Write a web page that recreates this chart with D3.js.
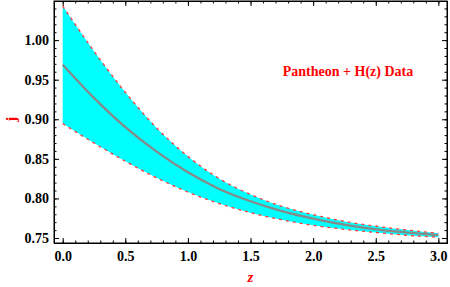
<!DOCTYPE html>
<html>
<head>
<meta charset="utf-8">
<script src="https://cdn.jsdelivr.net/npm/d3@7"></script>
<style>
    body { margin: 0; background: #fff; }
    svg text { font-family: "Liberation Serif", "Times New Roman", Times, "DejaVu Serif", serif !important; font-weight: bold; }
</style>
</head>
<body>
<svg id="chart" width="450" height="287"></svg>
<script>
// redshift samples and the band
let zValues = [0, 0.25, 0.5, 0.75, 1.0, 1.25, 1.5, 1.75, 2.0, 2.25, 2.5, 2.75, 3.0];
let jUpper  = [1.043, 0.986, 0.934, 0.889, 0.853, 0.825, 0.805, 0.790, 0.7795, 0.771, 0.765, 0.760, 0.756];
let jMiddle = [0.969, 0.927, 0.890, 0.859, 0.833, 0.812, 0.7965, 0.784, 0.7745, 0.767, 0.761, 0.757, 0.7535];
let jLower  = [0.8945, 0.870, 0.847, 0.826, 0.808, 0.7935, 0.782, 0.773, 0.766, 0.761, 0.757, 0.7535, 0.751];

let xTicks = [0, 0.5, 1.0, 1.5, 2.0, 2.5, 3.0];
let yTicks = [0.75, 0.80, 0.85, 0.90, 0.95, 1.00];

let width = 450;
let height = 287;
let padLeft = 54, padRight = 447, padTop = 1, padBottom = 243;

let data = zValues.map(function (z, i) {
    return {z: z, up: jUpper[i], mid: jMiddle[i], low: jLower[i]};
});

let xScale = d3.scaleLinear()
    .domain([-0.0695, 3.069])
    .range([padLeft, padRight]);

let yScale = d3.scaleLinear()
    .domain([0.7437, 1.0494])
    .range([padBottom, padTop]);

let svg = d3.select("#chart");

//band
let area = d3.area()
    .x(d => xScale(d.z))
    .y0(d => yScale(d.low))
    .y1(d => yScale(d.up))
    .curve(d3.curveMonotoneX);

svg.append("path")
    .datum(data)
    .attr("d", area)
    .attr("fill", "#00ffff");

//dashed edges
for (let key of ["up", "low"]) {
    let line = d3.line()
        .x(d => xScale(d.z))
        .y(d => yScale(d[key]))
        .curve(d3.curveMonotoneX);
    svg.append("path")
        .datum(data)
        .attr("d", line)
        .attr("fill", "none")
        .attr("stroke", "#ff3a3a")
        .attr("stroke-width", 1.3)
        .attr("stroke-dasharray", "3,4");
}

//center line
let midLine = d3.line()
    .x(d => xScale(d.z))
    .y(d => yScale(d.mid))
    .curve(d3.curveMonotoneX);

svg.append("path")
    .datum(data)
    .attr("d", midLine)
    .attr("fill", "none")
    .attr("stroke", "#888888")
    .attr("stroke-width", 2.2);

//frame with inward ticks on every side
let xMinor = d3.range(0, 3.05, 0.1).map(v => +v.toFixed(2));
let yMinor = d3.range(0.75, 1.045, 0.01).map(v => +v.toFixed(2));

let axisBottom = d3.axisBottom(xScale).tickValues(xTicks).tickSizeInner(-5).tickSizeOuter(0)
    .tickFormat(d3.format(".1f")).tickPadding(8);
let axisTop = d3.axisTop(xScale).tickValues(xTicks).tickSizeInner(-5).tickSizeOuter(0).tickFormat("");
let axisLeft = d3.axisLeft(yScale).tickValues(yTicks).tickSizeInner(-5).tickSizeOuter(0)
    .tickFormat(d3.format(".2f")).tickPadding(5);
let axisRight = d3.axisRight(yScale).tickValues(yTicks).tickSizeInner(-5).tickSizeOuter(0).tickFormat("");

let minorB = d3.axisBottom(xScale).tickValues(xMinor).tickSize(-2.5).tickFormat("");
let minorT = d3.axisTop(xScale).tickValues(xMinor).tickSize(-2.5).tickFormat("");
let minorL = d3.axisLeft(yScale).tickValues(yMinor).tickSize(-2.5).tickFormat("");
let minorR = d3.axisRight(yScale).tickValues(yMinor).tickSize(-2.5).tickFormat("");

svg.append("g").attr("transform", "translate(0," + padBottom + ")").call(minorB);
svg.append("g").attr("transform", "translate(0," + padTop + ")").call(minorT);
svg.append("g").attr("transform", "translate(" + padLeft + ",0)").call(minorL);
svg.append("g").attr("transform", "translate(" + padRight + ",0)").call(minorR);

svg.append("g").attr("transform", "translate(0," + padBottom + ")").call(axisBottom);
svg.append("g").attr("transform", "translate(0," + padTop + ")").call(axisTop);
svg.append("g").attr("transform", "translate(" + padLeft + ",0)").call(axisLeft);
svg.append("g").attr("transform", "translate(" + padRight + ",0)").call(axisRight);

svg.selectAll("g").attr("font-family", null);
svg.selectAll(".domain").attr("stroke", "#000").attr("stroke-width", 1);
svg.selectAll(".tick line").attr("stroke", "#000");
svg.selectAll(".tick text")
    .attr("fill", "#000")
    .style("font-size", "14px");

//frame box
svg.append("rect")
    .attr("x", padLeft).attr("y", padTop)
    .attr("width", padRight - padLeft).attr("height", padBottom - padTop)
    .attr("fill", "none").attr("stroke", "#000");

//labels
svg.append("text")
    .attr("x", xScale(1.5)).attr("y", 282)
    .attr("text-anchor", "middle")
    .attr("fill", "#ff0000")
    .style("font-size", "15px")
    .style("font-style", "italic")
    .text("z");

svg.append("text")
    .attr("transform", "translate(16," + yScale(0.9) + ") rotate(-90)")
    .attr("text-anchor", "middle")
    .attr("fill", "#ff0000")
    .style("font-size", "15px")
    .text("j");

svg.append("text")
    .attr("x", 348).attr("y", 76)
    .attr("text-anchor", "middle")
    .attr("fill", "#ff0000")
    .style("font-size", "14px")
    .text("Pantheon + H(z) Data");
</script>
</body>
</html>
